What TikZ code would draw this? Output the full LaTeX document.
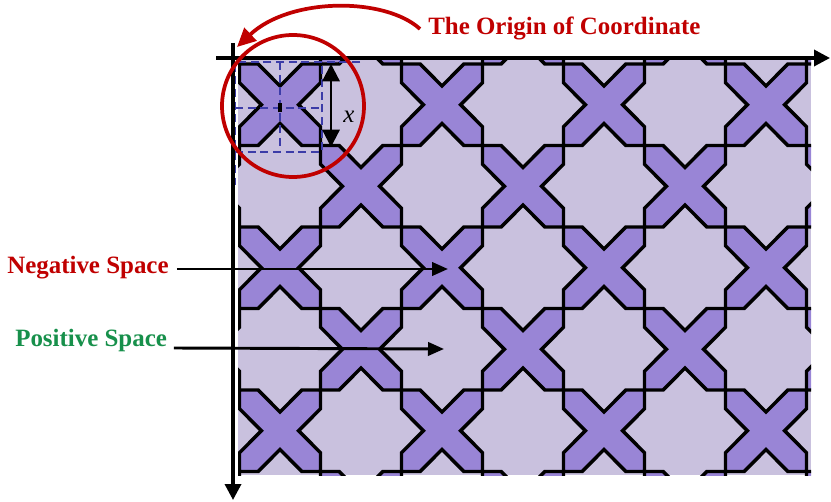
\documentclass[tikz,border=0pt]{standalone}
\usepackage{fontspec}
\setmainfont{Liberation Serif}
\usetikzlibrary{arrows.meta}
\definecolor{negred}{HTML}{C00000}
\definecolor{posgreen}{HTML}{17904B}
\definecolor{tileX}{HTML}{9985D6}
\definecolor{tilebg}{HTML}{C9C1DE}
\definecolor{guide}{HTML}{3C3CA8}

\begin{document}
\begin{tikzpicture}[x=.75pt,y=-.75pt,font=\fontsize{18.7}{22}\selectfont,
    xtile/.style={fill=tileX,draw=black,line width=2.6pt},
    axis/.style={line width=2.6pt,-{Triangle[length=12pt,width=12pt]}},
    guideline/.style={guide,line width=1.7pt,dash pattern=on 6pt off 3.5pt},
    pointer/.style={line width=2.2pt,-{Triangle[length=12pt,width=10pt]}},
    tag/.style={inner sep=0pt,anchor=base west,font=\fontsize{18.7}{22}\selectfont\bfseries}]
  \useasboundingbox (0,0) rectangle (831,502);
  \begin{scope}
    \clip (238,60) rectangle (811,475);
    \fill[tilebg] (238,60) rectangle (811,475);
    \begin{scope}[shift={(239.5,64)},x=60.75pt,y=-61.125pt]
      \foreach \i in {-1,...,8}{
        \foreach \j in {-1,...,6}{
          \pgfmathtruncatemacro\parity{mod(\i+\j+10,2)}
          \ifnum\parity=0
            \draw[xtile] (\i,\j) -- ++(.23,0) -- ++(.27,.27) -- ++(.27,-.27) -- ++(.23,0)
              -- ++(0,.23) -- ++(-.27,.27) -- ++(.27,.27) -- ++(0,.23)
              -- ++(-.23,0) -- ++(-.27,-.27) -- ++(-.27,.27) -- ++(-.23,0)
              -- ++(0,-.23) -- ++(.27,-.27) -- ++(-.27,-.27) -- cycle;
          \fi}}
    \end{scope}
  \end{scope}
  \draw[guideline] (360,62) -- (235,62) -- (235,185);
  \draw[guideline] (235,152) -- (322,152) -- (322,62);
  \draw[guideline] (280,62) -- (280,152);
  \draw[guideline] (235,108) -- (322,108);
  \fill (278,103.5) rectangle (282,112.5);
  \coordinate (xtop) at (331,64);
  \coordinate (xbot) at (331,147);
  \draw[line width=1.7pt,{Triangle[length=13pt,width=13pt]}-{Triangle[length=13pt,width=13pt]}] (xtop) -- (xbot);
  \node[font=\fontsize{18.7}{22}\selectfont\itshape] (xlab) at (349,117) {x};
  \coordinate (xa) at (216,58);
  \coordinate (xb) at (830,58);
  \coordinate (ya) at (233,43);
  \coordinate (yb) at (233,500);
  \draw[axis] (xa) -- (xb);
  \draw[axis] (ya) -- (yb);
  \draw[negred,line width=2.8pt] (293,106) circle[radius=53.25pt];
  \node[tag,text=negred] (origtxt) at (428,35) {The Origin of Coordinate};
  \coordinate (origtip) at (237,47);
  \draw[negred,line width=2.8pt,-{Triangle[length=14pt,width=13pt]}] ([xshift=-6pt]origtxt.west) .. controls (385,-3) and (290,-3) .. (origtip);
  \node[tag,text=negred] (neg) at (7,273) {Negative Space};
  \node[tag,text=posgreen] (pos) at (15,346) {Positive Space};
  \coordinate (negtip) at (448,269);
  \coordinate (postip) at (444,349);
  \draw[pointer] ([shift={(6pt,3pt)}]neg.base east) -- (negtip);
  \draw[pointer] ([shift={(5pt,-1.5pt)}]pos.base east) -- (postip);
\end{tikzpicture}
\end{document}
